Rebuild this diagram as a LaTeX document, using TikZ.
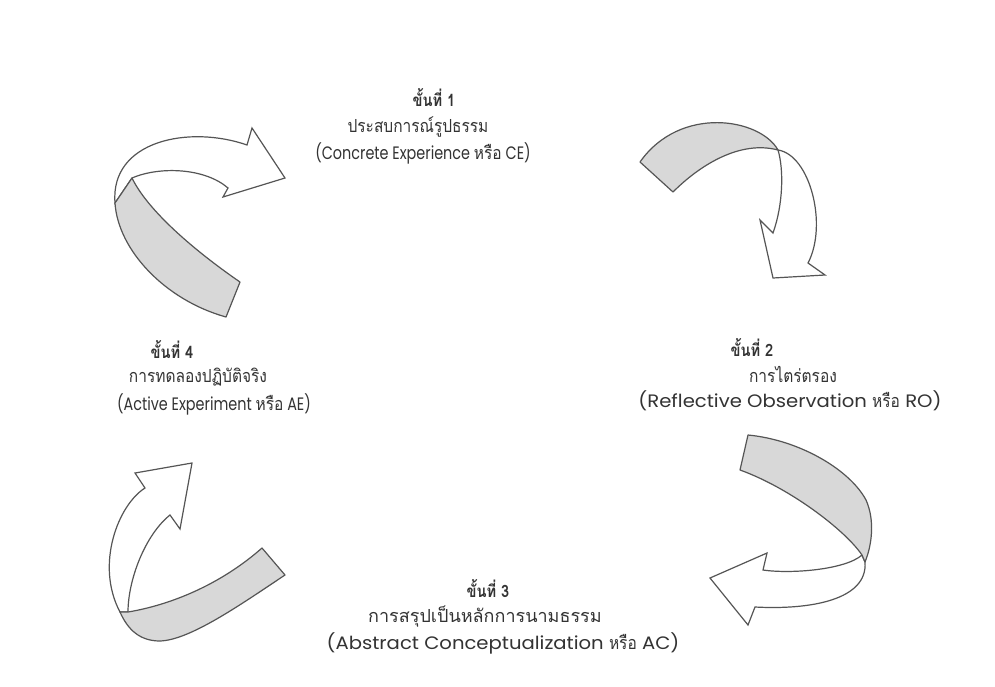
\documentclass[tikz,border=0pt]{standalone}
\usepackage{fontspec}
\newfontfamily\thaifont[Script=Thai]{Loma}
\newfontfamily\thainarrow[Script=Thai, FakeStretch=0.86]{Loma}
\newfontfamily\engfont{Poppins}
\newfontfamily\engnarrow[FakeStretch=0.8]{Poppins}
\newfontfamily\engwide[FakeStretch=1.09]{Poppins}
\definecolor{txtgray}{HTML}{333333}
\definecolor{linegray}{HTML}{555555}
\definecolor{bandgray}{HTML}{D8D8D8}
\tikzset{
  stage_n/.style = {align=center, inner sep=0pt, text=txtgray, anchor=center},
  stage_title/.style = {stage_n, font=\thainarrow\bfseries\fontsize{17}{19}\selectfont},
  stage_th/.style = {stage_n, font=\thainarrow\fontsize{18}{20}\selectfont},
  stage_en/.style = {stage_n, font=\engwide\fontsize{18}{20}\selectfont},
  band_n/.style = {draw=linegray, fill=bandgray, line width=1.2pt, line join=round},
  arw_n/.style = {draw=linegray, fill=white, line width=1.2pt, line join=miter}}

\begin{document}
\begin{tikzpicture}[x=1pt, y=-1pt]
\useasboundingbox[fill=white] (0,0) rectangle (995,686);

% stage 1
\node [stage_title] (s1_title) at (434,98) {ขั้นที่ 1};
\node [stage_th] (s1_th) at (418,127) {ประสบการณ์รูปธรรม};
\node [stage_en, font=\engnarrow\fontsize{18}{20}\selectfont] (s1_en) at (423,153)
  {(Concrete Experience {\thainarrow หรือ} CE)};
% stage 2
\node [stage_title] (s2_title) at (752,348) {ขั้นที่ 2};
\node [stage_th] (s2_th) at (793,374) {การไตร่ตรอง};
\node [stage_en] (s2_en) at (790,401) {(Reflective Observation {\thainarrow หรือ} RO)};
% stage 3
\node [stage_title] (s3_title) at (488,589) {ขั้นที่ 3};
\node [stage_th, font=\thaifont\fontsize{18}{20}\selectfont] (s3_th) at (485,617)
  {การสรุปเป็นหลักการนามธรรม};
\node [stage_en] (s3_en) at (503,643) {(Abstract Conceptualization {\thainarrow หรือ} AC)};
% stage 4
\node [stage_title] (s4_title) at (172,350) {ขั้นที่ 4};
\node [stage_th] (s4_th) at (198,377) {การทดลองปฏิบัติจริง};
\node [stage_en, font=\engnarrow\fontsize{18}{20}\selectfont] (s4_en) at (214,404)
  {(Active Experiment {\thainarrow หรือ} AE)};

% arrow 4 -> 1
\draw [arw_n] (132,178) .. controls (160,166) and (205,168) .. (228,188)
  -- (223,197) -- (285,178) -- (252,128) -- (247,145)
  .. controls (190,125) and (110,140) .. (115,203) -- cycle;
\draw [band_n] (226,317) -- (240,282) .. controls (205,258) and (150,215) .. (132,178)
  -- (115,203) .. controls (118,250) and (165,300) .. cycle;

% arrow 1 -> 2
\draw [arw_n] (778,150) .. controls (810,155) and (828,225) .. (808,263)
  -- (825,275) -- (773,278) -- (760,220) -- (773,233)
  .. controls (783,205) and (784,170) .. cycle;
\draw [band_n] (640,162) -- (673,192) .. controls (700,165) and (740,140) .. (778,150)
  .. controls (760,118) and (680,105) .. cycle;

% arrow 2 -> 3
\draw [arw_n] (862,555) .. controls (845,570) and (790,574) .. (763,570)
  -- (767,553) -- (710,578) -- (748,625) -- (755,607)
  .. controls (810,610) and (868,600) .. (865,562) -- cycle;
\draw [band_n] (748,435) .. controls (800,440) and (850,470) .. (866,500)
  .. controls (875,520) and (872,545) .. (865,562) -- (862,555)
  .. controls (845,530) and (790,488) .. (740,470) -- cycle;

% arrow 3 -> 4
\draw [arw_n] (128,612) .. controls (128,580) and (145,535) .. (170,515)
  -- (180,529) -- (192,463) -- (135,473) -- (145,488)
  .. controls (118,505) and (95,565) .. (120,612) -- cycle;
\draw [band_n] (262,548) -- (285,575) .. controls (240,605) and (190,640) .. (160,641)
  .. controls (140,641) and (128,630) .. (120,612) -- (128,612)
  .. controls (170,605) and (220,585) .. cycle;
\end{tikzpicture}
\end{document}
